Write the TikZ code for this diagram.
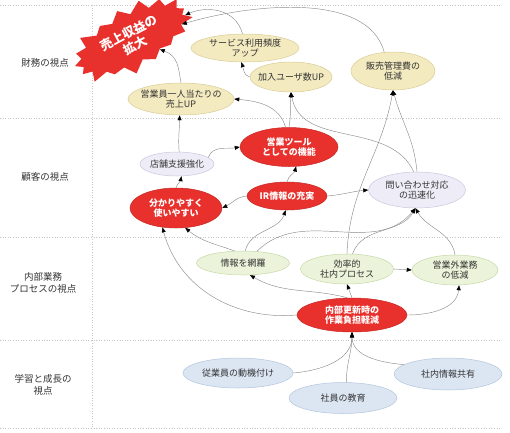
\documentclass[tikz,border=0pt]{standalone}
\usepackage{fontspec}
\setmainfont{Noto Sans CJK JP}
\usepackage{xcolor}
\usepackage{tikz}
\usetikzlibrary{arrows.meta,shapes.geometric,shapes.symbols}
\definecolor{bsred}{HTML}{E8302C}
\definecolor{bsbeige}{HTML}{F4EAC0}
\definecolor{bsbeigeln}{HTML}{D9CC95}
\definecolor{bslav}{HTML}{EEEDF7}
\definecolor{bslavln}{HTML}{C9C6DE}
\definecolor{bsgreen}{HTML}{EBF4DA}
\definecolor{bsgreenln}{HTML}{C6D8A6}
\definecolor{bsblue}{HTML}{DCE6F3}
\definecolor{bsblueln}{HTML}{B2C5DD}
\definecolor{bstext}{HTML}{333333}
\definecolor{bsline}{HTML}{8C8C8C}

\begin{document}
\begin{tikzpicture}[
    x=1pt, y=1pt,
    lane/.style={font=\fontsize{9.5}{12}\selectfont, text=bstext, align=center},
    laneline/.style={draw=gray!45, dotted, line width=0.6pt},
    obj/.style={ellipse, inner xsep=-4pt, inner ysep=0pt, align=center, line width=0.5pt, text=bstext, font=\fontsize{9}{10.5}\selectfont},
    fin/.style={obj, fill=bsbeige, draw=bsbeigeln},
    cust/.style={obj, fill=bslav, draw=bslavln},
    proc/.style={obj, fill=bsgreen, draw=bsgreenln},
    learn/.style={obj, fill=bsblue, draw=bsblueln},
    hot/.style={obj, fill=bsred, draw=bsred!85!black, text=white, font=\bfseries\fontsize{9}{10.5}\selectfont},
    link/.style={draw=bsline, line width=0.45pt, -{Triangle[length=5pt, width=4pt, color=black]}},
]
    \useasboundingbox (0,0) rectangle (510,-432);

    \foreach \y in {-5,-118,-237,-340,-428}
        \draw[laneline] (0,\y) -- (500,\y);
    \draw[laneline] (92,-5) -- (92,-428);

    \node[lane] (l1) at (45,-63) {財務の視点};
    \node[lane] (l2) at (45,-177) {顧客の視点};
    \node[lane] (l3) at (43,-283) {内部業務\\プロセスの視点};
    \node[lane] (l4) at (43,-385) {学習と成長の\\視点};

    \node[starburst, fill=bsred, draw=none, rotate=28, starburst points=17, starburst point height=12pt,
          minimum width=136pt, minimum height=66pt, text=white, align=center,
          font=\bfseries\fontsize{12.5}{14}\selectfont] (burst) at (132,-39) {売上収益の\\拡大};

    \node[fin, minimum width=108pt, minimum height=28pt] (svc) at (245,-48) {サービス利用頻度\\アップ};
    \node[fin, minimum width=80pt, minimum height=30pt] (users) at (291,-77) {加入ユーザ数UP};
    \node[fin, minimum width=84pt, minimum height=38pt] (cost) at (393,-71) {販売管理費の\\低減};
    \node[fin, minimum width=106pt, minimum height=32pt] (perhead) at (181,-99) {営業員一人当たりの\\売上UP};

    \node[cust, minimum width=74pt, minimum height=24pt] (store) at (177,-164) {店舗支援強化};
    \node[hot, minimum width=98pt, minimum height=39pt] (tool) at (289,-147) {営業ツール\\としての機能};
    \node[hot, minimum width=80pt, minimum height=28pt] (ir) at (287,-196) {IR情報の充実};
    \node[hot, minimum width=92pt, minimum height=40pt] (easy) at (176,-208) {分かりやすく\\使いやすい};
    \node[cust, minimum width=97pt, minimum height=36pt] (inq) at (417,-190) {問い合わせ対応\\の迅速化};

    \node[proc, minimum width=93pt, minimum height=24pt] (cover) at (243,-263) {情報を網羅};
    \node[proc, minimum width=93pt, minimum height=30pt] (eff) at (347,-269) {効率的\\社内プロセス};
    \node[proc, minimum width=86pt, minimum height=30pt] (nonsales) at (455,-270) {営業外業務\\の低減};
    \node[hot, minimum width=110pt, minimum height=34pt] (update) at (352,-315) {内部更新時の\\作業負担軽減};

    \node[learn, minimum width=110pt, minimum height=30pt] (motiv) at (238,-373) {従業員の動機付け};
    \node[learn, minimum width=108pt, minimum height=31pt] (edu) at (343,-398) {社員の教育};
    \node[learn, minimum width=108pt, minimum height=32pt] (share) at (448,-374) {社内情報共有};

    \draw[link] (motiv.east) to[out=5,in=-90] (update.south);
    \draw[link] (edu.78) to[out=90,in=-90] (update.south);
    \draw[link] (share.168) to[out=175,in=-90] (update.south);
    \draw[link] (update.north) -- (eff.south);
    \draw[link] (update.105) to[out=165,in=-30] (cover.300);
    \draw[link] (update.west) to[out=185,in=-75] (easy.235);
    \draw[link] (update.east) to[out=0,in=-95] (nonsales.285);
    \draw[link] (eff.east) -- (nonsales.west);
    \draw[link] (cover.125) to[out=160,in=-40] (easy.295);
    \draw[link] (cover.80) to[out=75,in=-110] (ir.265);
    \draw[link] (cover.40) to[out=45,in=-130] (inq.265);
    \draw[link] (eff.70) to[out=70,in=-120] (inq.265);
    \draw[link] (nonsales.north) to[out=100,in=-60] (inq.265);
    \draw[link] (eff.north) to[out=88,in=-100] (cost.south);
    \draw[link] (inq.north) to[out=95,in=-75] (cost.south);
    \draw[link] (inq.100) to[out=115,in=-80] (users.south);
    \draw[link] (tool.north) to[out=80,in=-95] (users.south);
    \draw[link] (tool.100) to[out=105,in=-5] (perhead.east);
    \draw[link] (users.west) to[out=165,in=-70] (svc.255);
    \draw[link] (svc.100) to[out=105,in=5] (burst);
    \draw[link] (cost.115) to[out=105,in=3,looseness=0.8] (burst);
    \draw[link] (perhead.north) to[out=100,in=-40] (burst);
    \draw[link] (store.80) to[out=95,in=-90] (perhead.265);
    \draw[link] (store.12) to[out=70,in=190] (tool.west);
    \draw[link] (easy.north) to[out=70,in=-100] (store.290);
    \draw[link] (ir.north) to[out=75,in=-105] (tool.290);
    \draw[link] (ir.west) to[out=185,in=25] (easy.east);
    \draw[link] (ir.east) to[out=5,in=185] (inq.west);
\end{tikzpicture}
\end{document}
